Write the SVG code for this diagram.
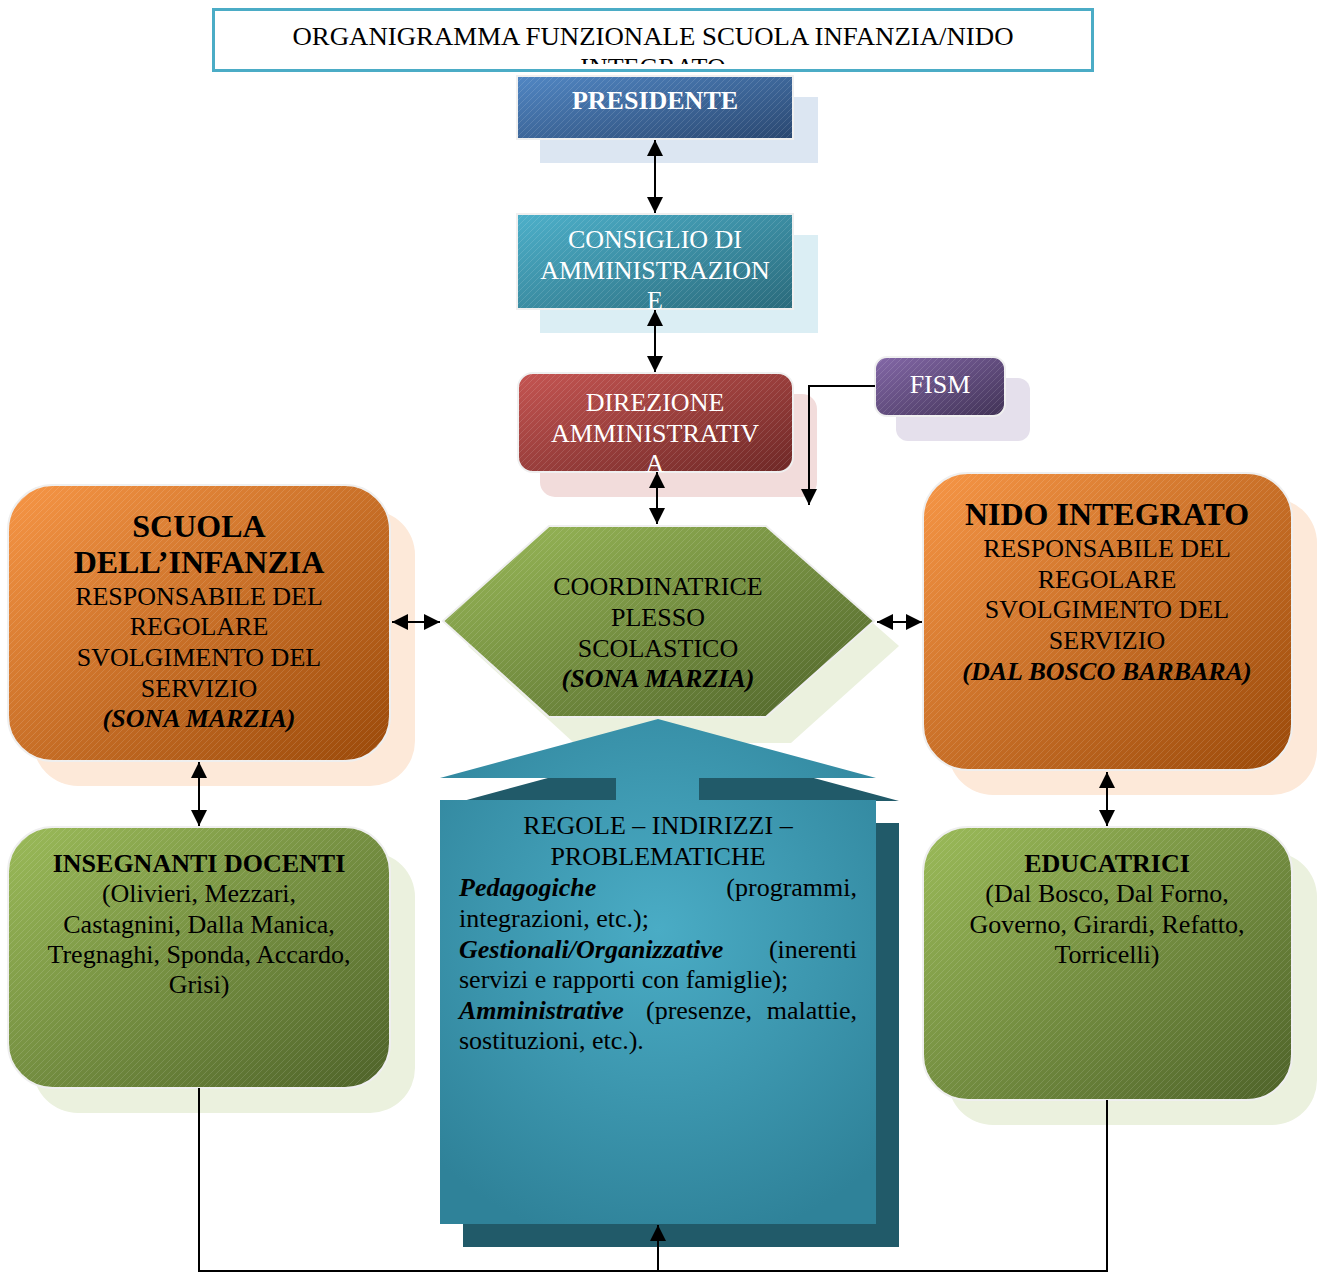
<svg xmlns="http://www.w3.org/2000/svg" width="1321" height="1273" viewBox="0 0 1321 1273">
<defs>
<style>
text{font-family:"Liberation Serif","Times New Roman",serif;font-size:26px;text-anchor:middle}
.w{fill:#fff}.k{fill:#000}
.b{font-weight:bold}.bi{font-weight:bold;font-style:italic}
.l{text-anchor:start}.r{text-anchor:end}
.big{font-size:32px;font-weight:bold}
.edge{stroke:#EFEFEF;stroke-width:2}
.conn{fill:none;stroke:#000;stroke-width:2}
</style>
<pattern id="hatch" patternUnits="userSpaceOnUse" width="6" height="6">
<path d="M-1,1 L1,-1 M0,6 L6,0 M5,7 L7,5" stroke="#fff" stroke-opacity="0.16" stroke-width="0.8"/>
</pattern>
<linearGradient id="gBlue" x1="0" y1="0" x2="1" y2="1"><stop offset="0" stop-color="#5187C4"/><stop offset="1" stop-color="#2A4770"/></linearGradient>
<linearGradient id="gAqua" x1="0" y1="0" x2="1" y2="1"><stop offset="0" stop-color="#4DB0CA"/><stop offset="1" stop-color="#2A6A7B"/></linearGradient>
<linearGradient id="gRed" x1="0" y1="0" x2="1" y2="1"><stop offset="0" stop-color="#C55552"/><stop offset="1" stop-color="#6E2826"/></linearGradient>
<linearGradient id="gPurple" x1="0" y1="0" x2="1" y2="1"><stop offset="0" stop-color="#8468A8"/><stop offset="1" stop-color="#403255"/></linearGradient>
<linearGradient id="gOrange" x1="0" y1="0" x2="1" y2="1"><stop offset="0" stop-color="#F79646"/><stop offset="1" stop-color="#9A4909"/></linearGradient>
<linearGradient id="gGreen" x1="0" y1="0" x2="1" y2="1"><stop offset="0" stop-color="#9BBB59"/><stop offset="1" stop-color="#4E6229"/></linearGradient>
<radialGradient id="gTeal" gradientUnits="userSpaceOnUse" cx="658" cy="930" r="320"><stop offset="0" stop-color="#4AACC5"/><stop offset="1" stop-color="#2F8299"/></radialGradient>
<marker id="ah" viewBox="0 0 16 16" refX="16" refY="8" markerWidth="16" markerHeight="16" markerUnits="userSpaceOnUse" orient="auto-start-reverse">
<path d="M0,0 L16,8 L0,16 z" fill="#000"/>
</marker>
<clipPath id="titleClip"><rect x="214" y="10" width="878" height="54"/></clipPath>
</defs>

<g id="title">
<rect x="213.5" y="9.5" width="879" height="61" fill="#fff" stroke="#4BACC6" stroke-width="3"/>
<g clip-path="url(#titleClip)">
<text class="k" x="653" y="45" textLength="721" lengthAdjust="spacingAndGlyphs">ORGANIGRAMMA FUNZIONALE SCUOLA INFANZIA/NIDO</text>
<text class="k" x="653" y="76">INTEGRATO</text>
</g>
</g>

<g id="presidente">
<rect x="540" y="97" width="278" height="66" fill="#DCE6F2"/>
<rect x="517" y="76" width="276" height="63" fill="url(#gBlue)" class="edge"/>
<rect x="517" y="76" width="276" height="63" fill="url(#hatch)"/>
<text class="w b" x="655" y="109">PRESIDENTE</text>
</g>

<g id="consiglio">
<rect x="540" y="235" width="278" height="98" fill="#DBEEF4"/>
<rect x="517" y="214" width="276" height="95" fill="url(#gAqua)" class="edge"/>
<rect x="517" y="214" width="276" height="95" fill="url(#hatch)"/>
<text class="w" x="655" y="248">CONSIGLIO DI</text>
<text class="w" x="655" y="279">AMMINISTRAZION</text>
<text class="w" x="655" y="309">E</text>
</g>

<g id="direzione">
<rect x="540" y="394" width="277" height="103" rx="15" fill="#F2DCDB"/>
<rect x="518" y="373" width="275" height="99" rx="15" fill="url(#gRed)" class="edge"/>
<rect x="518" y="373" width="275" height="99" rx="15" fill="url(#hatch)"/>
<text class="w" x="655" y="411">DIREZIONE</text>
<text class="w" x="655" y="442">AMMINISTRATIV</text>
<text class="w" x="655" y="472">A</text>
</g>

<g id="fism">
<rect x="896" y="378" width="134" height="63" rx="12" fill="#E5E0EC"/>
<rect x="875" y="357" width="130" height="59" rx="12" fill="url(#gPurple)" class="edge"/>
<rect x="875" y="357" width="130" height="59" rx="12" fill="url(#hatch)"/>
<text class="w" x="940" y="393">FISM</text>
</g>

<g id="scuola-infanzia">
<rect x="33" y="510" width="382" height="276" rx="45" fill="#FDE9D9"/>
<rect x="8" y="485" width="382" height="276" rx="45" fill="url(#gOrange)" class="edge"/>
<rect x="8" y="485" width="382" height="276" rx="45" fill="url(#hatch)"/>
<text class="k big" x="199" y="537">SCUOLA</text>
<text class="k big" x="199" y="573">DELL’INFANZIA</text>
<text class="k" x="199" y="605">RESPONSABILE DEL</text>
<text class="k" x="199" y="635">REGOLARE</text>
<text class="k" x="199" y="666">SVOLGIMENTO DEL</text>
<text class="k" x="199" y="697">SERVIZIO</text>
<text class="k bi" x="199" y="727">(SONA MARZIA)</text>
</g>

<g id="nido-integrato">
<rect x="948" y="498" width="369" height="297" rx="45" fill="#FDE9D9"/>
<rect x="923" y="473" width="369" height="297" rx="45" fill="url(#gOrange)" class="edge"/>
<rect x="923" y="473" width="369" height="297" rx="45" fill="url(#hatch)"/>
<text class="k big" x="1107" y="525">NIDO INTEGRATO</text>
<text class="k" x="1107" y="557">RESPONSABILE DEL</text>
<text class="k" x="1107" y="588">REGOLARE</text>
<text class="k" x="1107" y="618">SVOLGIMENTO DEL</text>
<text class="k" x="1107" y="649">SERVIZIO</text>
<text class="k bi" x="1107" y="680">(DAL BOSCO BARBARA)</text>
</g>

<g id="coordinatrice">
<polygon points="468,646 574,551 791,551 899,646 791,743 574,743" fill="#EBF1DE"/>
<polygon points="443,621 549,526 766,526 874,621 766,717 549,717" fill="url(#gGreen)" class="edge"/>
<polygon points="443,621 549,526 766,526 874,621 766,717 549,717" fill="url(#hatch)"/>
<text class="k" x="658" y="595">COORDINATRICE</text>
<text class="k" x="658" y="626">PLESSO</text>
<text class="k" x="658" y="657">SCOLASTICO</text>
<text class="k bi" x="658" y="687">(SONA MARZIA)</text>
</g>

<g id="regole">
<path d="M681,742 L899,801 L722,801 L722,823 L899,823 L899,1247 L463,1247 L463,823 L639,823 L639,801 L463,801 Z" fill="#215A69"/>
<path d="M658,719 L876,778 L699,778 L699,800 L876,800 L876,1224 L440,1224 L440,800 L616,800 L616,778 L440,778 Z" fill="url(#gTeal)"/>
<text class="k" x="658" y="834">REGOLE – INDIRIZZI –</text>
<text class="k" x="658" y="865">PROBLEMATICHE</text>
<text class="k bi l" x="459" y="896">Pedagogiche</text>
<text class="k r" x="857" y="896">(programmi,</text>
<text class="k l" x="459" y="927">integrazioni, etc.);</text>
<text class="k bi l" x="459" y="958">Gestionali/Organizzative</text>
<text class="k r" x="857" y="958">(inerenti</text>
<text class="k l" x="459" y="988">servizi e rapporti con famiglie);</text>
<text class="k bi l" x="459" y="1019">Amministrative</text>
<text class="k l" x="646" y="1019">(presenze,</text>
<text class="k r" x="857" y="1019">malattie,</text>
<text class="k l" x="459" y="1049">sostituzioni, etc.).</text>
</g>

<g id="insegnanti">
<rect x="33" y="852" width="382" height="261" rx="45" fill="#EBF1DE"/>
<rect x="8" y="827" width="382" height="261" rx="45" fill="url(#gGreen)" class="edge"/>
<rect x="8" y="827" width="382" height="261" rx="45" fill="url(#hatch)"/>
<text class="k b" x="199" y="872">INSEGNANTI DOCENTI</text>
<text class="k" x="199" y="902">(Olivieri, Mezzari,</text>
<text class="k" x="199" y="933">Castagnini, Dalla Manica,</text>
<text class="k" x="199" y="963">Tregnaghi, Sponda, Accardo,</text>
<text class="k" x="199" y="993">Grisi)</text>
</g>

<g id="educatrici">
<rect x="948" y="852" width="369" height="273" rx="45" fill="#EBF1DE"/>
<rect x="923" y="827" width="369" height="273" rx="45" fill="url(#gGreen)" class="edge"/>
<rect x="923" y="827" width="369" height="273" rx="45" fill="url(#hatch)"/>
<text class="k b" x="1107" y="872">EDUCATRICI</text>
<text class="k" x="1107" y="902">(Dal Bosco, Dal Forno,</text>
<text class="k" x="1107" y="933">Governo, Girardi, Refatto,</text>
<text class="k" x="1107" y="963">Torricelli)</text>
</g>

<g id="connectors">
<line class="conn" x1="655" y1="140" x2="655" y2="213" marker-start="url(#ah)" marker-end="url(#ah)"/>
<line class="conn" x1="655" y1="310" x2="655" y2="372" marker-start="url(#ah)" marker-end="url(#ah)"/>
<line class="conn" x1="657" y1="472" x2="657" y2="524" marker-start="url(#ah)" marker-end="url(#ah)"/>
<polyline class="conn" points="875,386 809,386 809,505" marker-end="url(#ah)"/>
<line class="conn" x1="392" y1="622" x2="440" y2="622" marker-start="url(#ah)" marker-end="url(#ah)"/>
<line class="conn" x1="877" y1="622" x2="922" y2="622" marker-start="url(#ah)" marker-end="url(#ah)"/>
<line class="conn" x1="199" y1="762" x2="199" y2="826" marker-start="url(#ah)" marker-end="url(#ah)"/>
<line class="conn" x1="1107" y1="772" x2="1107" y2="826" marker-start="url(#ah)" marker-end="url(#ah)"/>
<polyline class="conn" points="199,1088 199,1271 1107,1271 1107,1100"/>
<line class="conn" x1="658" y1="1271" x2="658" y2="1225" marker-end="url(#ah)"/>
</g>
</svg>
